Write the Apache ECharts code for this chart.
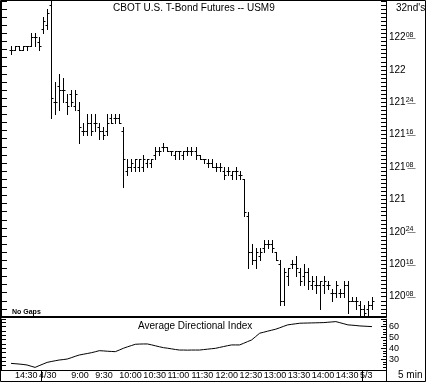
<!DOCTYPE html>
<html><head><meta charset="utf-8">
<script src="https://cdn.jsdelivr.net/npm/echarts@6/dist/echarts.min.js"></script>
<style>html,body{margin:0;padding:0;background:#fff}#c{width:426px;height:385px}</style>
</head><body><div id="c"></div>
<script>
// Trading sessions (5-minute bars): [day, first bar time, bar count]
const sessions = [['4/29', '14:20', 8], ['4/30', '8:20', 80], ['5/3', '8:20', 3]];
// Prices in 32nds above 120 (e.g. 72 = 122-08)
const opens  = [69,69,70,69,70,70,72,71,74,75,80,56,60,59,56,58,55,54,49,49,51,51,50,49,49,52,52,52,49,39,40,40,40,40,41,41,43,44,45,45,44,43,44,43,44,44,44,43,42,41,41,40,40,39,39,38,39,38,37,28,19,17,18,20,21,21,19,16,7,13,16,16,14,13,14,11,11,11,11,11,9,9,9,9,11,7,7,6,5,5,6];
const highs  = [70,70,70,70,70,73,73,72,77,79,81,61,63,62,58,59,59,56,51,53,53,53,51,50,53,53,53,53,50,42,42,42,42,43,42,42,45,45,46,45,44,44,44,44,45,45,45,43,42,42,42,41,41,40,40,39,40,39,37,29,21,20,20,22,22,22,19,17,15,15,17,18,15,16,15,13,13,12,13,12,10,12,10,12,12,8,8,7,6,7,8];
const lows   = [68,69,69,69,69,70,70,69,73,74,52,53,54,56,53,55,54,46,48,48,48,49,47,47,48,51,51,51,35,38,39,39,39,39,40,40,42,43,44,44,43,42,42,42,43,43,42,42,41,40,40,39,39,37,38,37,37,37,28,15,16,15,17,19,20,19,17,6,6,11,15,13,11,11,10,10,9,5,9,10,7,8,8,8,4,7,5,3,3,3,5];
const closes = [69,70,69,70,70,72,72,70,76,78,57,56,59,59,55,56,58,50,49,51,49,51,49,48,51,51,52,51,42,40,41,42,42,42,42,42,44,44,45,44,44,44,44,44,44,44,43,42,42,41,40,40,40,38,39,39,39,38,29,19,17,19,19,21,21,20,17,7,14,15,16,15,12,14,12,12,11,12,12,11,9,11,9,11,7,7,7,5,4,6,7];
// Average Directional Index
const adx = [26.1,25.8,25.5,25.1,24.6,23.5,22.4,24.0,25.5,27.0,27.8,28.5,29.2,29.6,30.1,31.3,32.6,33.8,34.5,35.2,35.9,36.8,37.8,37.6,37.3,37.1,36.9,38.4,40.0,41.3,42.5,43.7,43.9,44.0,44.0,43.2,42.3,41.4,40.6,40.1,39.5,38.9,38.4,38.4,38.3,38.4,38.4,38.4,38.8,39.2,39.6,40.0,40.8,41.6,42.4,43.1,43.1,43.1,44.6,46.2,47.7,50.8,53.9,54.8,55.8,56.7,57.6,58.9,60.3,61.6,62.1,62.6,63.1,63.2,63.3,63.4,63.5,63.6,63.7,64.0,64.3,64.6,63.6,62.6,61.6,61.3,61.0,60.6,60.4,60.2,60.0];
// Time axis labels: [bar key, text]
const xTickLabels = [['4/29 14:30','14:30'],['4/30 8:20','4/30'],['4/30 9:00','9:00'],['4/30 9:30','9:30'],['4/30 10:00','10:00'],['4/30 10:30','10:30'],['4/30 11:00','11:00'],['4/30 11:30','11:30'],['4/30 12:00','12:00'],['4/30 12:30','12:30'],['4/30 13:00','13:00'],['4/30 13:30','13:30'],['4/30 14:00','14:00'],['4/30 14:30','14:30'],['5/3 8:20','5/3']];
const daySeparators = ['4/30 8:20', '5/3 8:20'];
// Price axis labels (32nds above 120)
const priceTicks = [8, 16, 24, 32, 40, 48, 56, 64, 72];
const adxTicks = [30, 40, 50, 60];
const priceBase = 120;

const FONT = 'Liberation Sans';
const padL = 2, padR = 3;
const cats = [];
for (let i = 0; i < padL; i++) cats.push('pl' + i);
sessions.forEach(([day, start, n]) => {
  let [h, m] = start.split(':').map(Number);
  for (let k = 0; k < n; k++) {
    cats.push(day + ' ' + h + ':' + String(m).padStart(2, '0'));
    m += 5; if (m >= 60) { m -= 60; h++; }
  }
});
for (let i = 0; i < padR; i++) cats.push('pr' + i);

const labelAt = {};
xTickLabels.forEach(([k, t]) => { labelAt[cats.indexOf(k) - 1] = t; });
const sepAt = {};
daySeparators.forEach(k => { sepAt[cats.indexOf(k)] = true; });

const ohlc = opens.map((o, i) => [i + padL, o, highs[i], lows[i], closes[i]]);
const adxData = adx.map((v, i) => [i + padL, v]);

function fracLabel(v) {
  const pts = priceBase + Math.floor(v / 32);
  const f = v - Math.floor(v / 32) * 32;
  if (f === 0) return '{b|' + pts + '}';
  const s = String(f).padStart(2, '0').split('').map(c => c + '\u0332').join('');
  return '{b|' + pts + '}{s|' + s + '}';
}

function renderOHLC(params, api) {
  const x = api.value(0);
  const pO = api.coord([x, api.value(1)]);
  const pH = api.coord([x, api.value(2)]);
  const pL = api.coord([x, api.value(3)]);
  const pC = api.coord([x, api.value(4)]);
  const cx = Math.round(pH[0]) + 0.5;
  const st = { stroke: '#000', lineWidth: 1 };
  const yo = Math.round(pO[1]) + 0.5, yc = Math.round(pC[1]) + 0.5;
  return { type: 'group', children: [
    { type: 'line', shape: { x1: cx, y1: Math.round(pH[1]), x2: cx, y2: Math.round(pL[1]) + 1 }, style: st },
    { type: 'line', shape: { x1: cx - 2, y1: yo, x2: cx, y2: yo }, style: st },
    { type: 'line', shape: { x1: cx, y1: yc, x2: cx + 2, y2: yc }, style: st }
  ]};
}

const chart = echarts.init(document.getElementById('c'), null, { renderer: 'canvas' });
const axisBlack = { lineStyle: { color: '#000', width: 1 } };
chart.setOption({
  animation: false,
  backgroundColor: '#fff',
  textStyle: { fontFamily: FONT, color: '#000' },
  grid: [
    { left: 1, top: 1, width: 385, height: 316 },
    { left: 1, top: 319, width: 385, height: 51 }
  ],
  xAxis: [
    { type: 'category', gridIndex: 0, data: cats, boundaryGap: true,
      axisLine: { show: true, lineStyle: { color: '#000', width: 2 } },
      axisTick: { show: false }, axisLabel: { show: false }, splitLine: { show: false } },
    { type: 'category', gridIndex: 1, data: cats, boundaryGap: true,
      axisLine: axisBlack,
      axisTick: { show: true, inside: false, length: 11, alignWithLabel: false,
        interval: (i) => !!sepAt[i], lineStyle: { color: '#000' } },
      axisLabel: { show: true, interval: (i) => labelAt[i] !== undefined,
        formatter: (v, i) => labelAt[i] || '', align: 'left', margin: 1,
        fontSize: 9, fontFamily: FONT, color: '#000' },
      splitLine: { show: false } }
  ],
  yAxis: [
    { type: 'value', gridIndex: 0, position: 'right', min: 3, max: 81, interval: 1,
      axisLine: { show: true, lineStyle: { color: '#000' } },
      axisTick: { show: true, inside: true, length: 5, lineStyle: { color: '#000' } },
      axisLabel: { show: true, margin: 3, formatter: (v) => (priceTicks.indexOf(v) >= 0 ? fracLabel(v) : ''),
        rich: { b: { fontSize: 10, fontFamily: FONT, color: '#000', lineHeight: 12 },
                s: { fontSize: 7, fontFamily: FONT, color: '#000', verticalAlign: 'top', lineHeight: 8 } } },
      splitLine: { show: false } },
    { type: 'value', gridIndex: 0, position: 'left', min: 3, max: 81, interval: 2,
      axisLine: { show: true, lineStyle: { color: '#000' } },
      axisTick: { show: true, inside: true, length: 6, lineStyle: { color: '#000' } },
      axisLabel: { show: false }, splitLine: { show: false } },
    { type: 'value', gridIndex: 1, position: 'right', min: 20, max: 67, interval: 10,
      axisLine: { show: true, lineStyle: { color: '#000' } },
      axisTick: { show: true, inside: true, length: 5, lineStyle: { color: '#000' } },
      minorTick: { show: true, splitNumber: 4, length: 3, lineStyle: { color: '#000' } },
      axisLabel: { show: true, margin: 3, fontSize: 9, fontFamily: FONT, color: '#000',
        formatter: (v) => (adxTicks.indexOf(v) >= 0 ? String(v) : '') },
      splitLine: { show: false } },
    { type: 'value', gridIndex: 1, position: 'left', min: 20, max: 67, interval: 4,
      axisLine: { show: true, lineStyle: { color: '#000' } },
      axisTick: { show: true, inside: true, length: 5, lineStyle: { color: '#000' } },
      axisLabel: { show: false }, splitLine: { show: false } }
  ],
  series: [
    { type: 'custom', xAxisIndex: 0, yAxisIndex: 0, data: ohlc, renderItem: renderOHLC,
      encode: { x: 0, y: [1, 2, 3, 4] }, silent: true, clip: false },
    { type: 'line', xAxisIndex: 1, yAxisIndex: 2, data: adxData, symbol: 'none', silent: true,
      lineStyle: { color: '#000', width: 1 } }
  ],
  graphic: [
    { type: 'rect', shape: { x: 0.5, y: 0.5, width: 425, height: 381 }, style: { fill: null, stroke: '#000', lineWidth: 1 }, silent: true },
    { type: 'line', shape: { x1: 386.5, y1: 370, x2: 386.5, y2: 381 }, style: { stroke: '#000', lineWidth: 1 }, silent: true },
    { type: 'text', left: 113, top: 3, style: { text: 'CBOT U.S. T-Bond Futures -- USM9', font: '10px "Liberation Sans"', fill: '#000' } },
    { type: 'text', left: 396, top: 3, style: { text: "32nd's", font: '10px "Liberation Sans"', fill: '#000' } },
    { type: 'text', left: 12, top: 309, style: { text: 'No Gaps', font: 'bold 7px "Liberation Sans"', fill: '#000' } },
    { type: 'text', left: 138, top: 321, style: { text: 'Average Directional Index', font: '10px "Liberation Sans"', fill: '#000' } },
    { type: 'text', left: 398, top: 370, style: { text: '5 min', font: '10px "Liberation Sans"', fill: '#000' } }
  ]
});
</script></body></html>
